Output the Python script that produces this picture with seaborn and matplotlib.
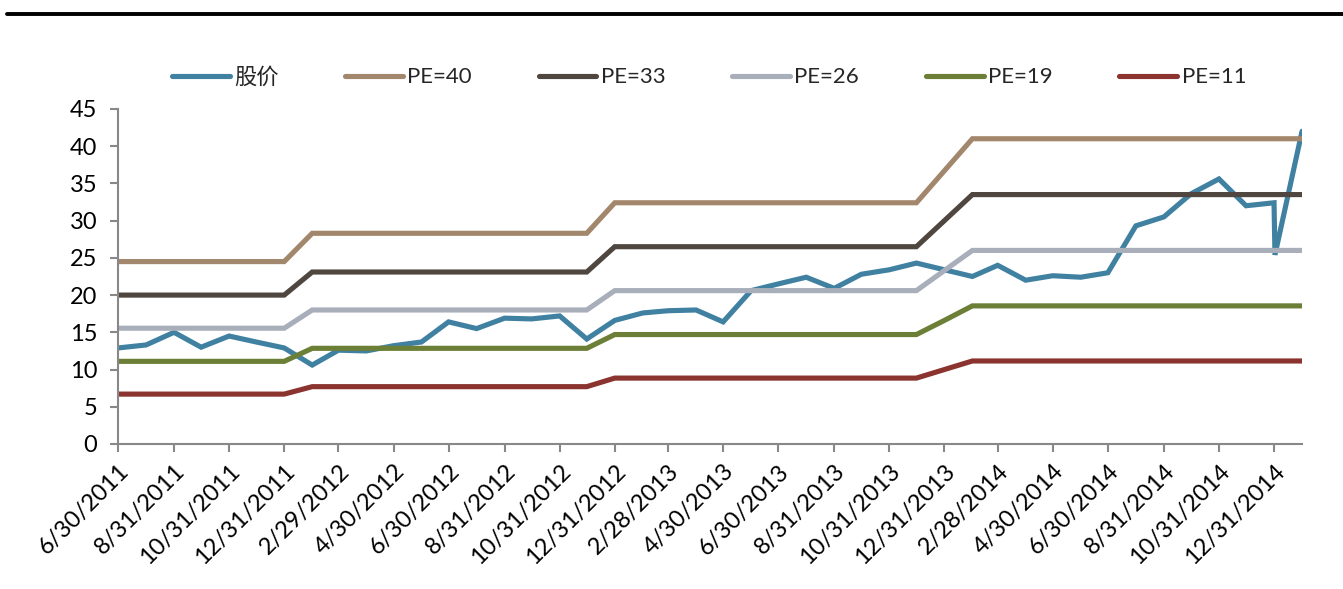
import pandas as pd
import seaborn as sns
from matplotlib import pyplot as plt
from matplotlib.lines import Line2D
import matplotlib.ticker as mticker

# monthly dates from 6/30/2011 to 1/31/2015
month_ends = list(pd.date_range("2011-06-30", "2015-01-31", freq="ME"))

stock = [12.9, 13.3, 15.0, 13.0, 14.5, 13.7, 12.9,
         10.6, 12.6, 12.5, 13.2, 13.7, 16.4, 15.5, 16.9, 16.8, 17.2, 14.1, 16.6,
         17.6, 17.9, 18.0, 16.4, 20.6, 21.5, 22.4, 20.9, 22.8, 23.4, 24.3, 23.4,
         22.5, 24.0, 22.0, 22.6, 22.4, 23.0, 29.3, 30.5, 33.6, 35.6, 32.0, 32.4,
         25.4, 42.0]
stock_dates = month_ends[:-1] + [pd.Timestamp("2015-01-01"), pd.Timestamp("2015-01-31")]

pe40 = [24.5] * 7 + [28.3] * 11 + [32.4] * 12 + [36.7] + [41.0] * 13
pe33 = [20.0] * 7 + [23.1] * 11 + [26.5] * 12 + [30.0] + [33.5] * 13
pe26 = [15.55] * 7 + [18.0] * 11 + [20.6] * 12 + [23.3] + [26.0] * 13
pe19 = [11.1] * 7 + [12.85] * 11 + [14.7] * 12 + [16.6] + [18.55] * 13
pe11 = [6.7] * 7 + [7.7] * 11 + [8.85] * 12 + [10.0] + [11.15] * 13

series_names = ["股价", "PE=40", "PE=33", "PE=26", "PE=19", "PE=11"]
colors = ["#4081A2", "#A3876C", "#4E463F", "#A8AEBA", "#6B7F36", "#8B332E"]


def build_frame():
    parts = [pd.DataFrame({"date": stock_dates, "value": stock, "series": "股价"})]
    for name, vals in zip(series_names[1:], [pe40, pe33, pe26, pe19, pe11]):
        parts.append(pd.DataFrame({"date": month_ends, "value": vals, "series": name}))
    return pd.concat(parts, ignore_index=True)


def make_chart(df):
    sns.set_style("white")
    plt.rcParams["font.family"] = ["Lato", "Noto Sans CJK SC", "DejaVu Sans"]

    fig = plt.figure(figsize=(13.43, 5.89), dpi=100)
    ax = fig.add_axes([0.0879, 0.2462, 0.9695 - 0.0879, 0.815 - 0.2462])

    sns.lineplot(data=df, x="date", y="value", hue="series", hue_order=series_names,
                 palette=dict(zip(series_names, colors)), linewidth=3.7, ax=ax,
                 estimator=None, sort=True)
    for line in ax.get_lines():
        line.set_solid_capstyle("round")
        line.set_solid_joinstyle("miter")

    ax.set_xlim(pd.Timestamp("2011-06-30"), pd.Timestamp("2015-01-31"))
    ax.set_ylim(0, 45)
    ax.yaxis.set_major_locator(mticker.MultipleLocator(5))

    tick_dates = month_ends[:-1:2]
    ax.set_xticks(tick_dates)
    ax.set_xticklabels([f"{d.month}/{d.day}/{d.year}" for d in tick_dates],
                       rotation=45, ha="right", rotation_mode="anchor")

    ax.set_xlabel("")
    ax.set_ylabel("")
    for side in ["top", "right"]:
        ax.spines[side].set_visible(False)
    for side in ["left", "bottom"]:
        ax.spines[side].set_color("#888888")
        ax.spines[side].set_linewidth(1.5)
    ax.tick_params(axis="both", direction="out", length=6, width=1.5, color="#888888",
                   labelsize=17, labelcolor="black", left=True, bottom=True)
    ax.tick_params(axis="y", pad=9)
    ax.tick_params(axis="x", pad=6)

    handles, labels = ax.get_legend_handles_labels()
    for h in handles:
        h.set_solid_capstyle("round")
    leg = ax.legend(handles, labels, loc="center", ncol=6, frameon=False, fontsize=16,
                    handlelength=2.6, handletextpad=0.2, columnspacing=3.0)
    leg.set_bbox_to_anchor((709 / 1343, 1 - 77 / 589), transform=fig.transFigure)

    fig.add_artist(Line2D([0.005, 1.0], [1 - 14 / 589, 1 - 14 / 589], color="black",
                          linewidth=2.8, transform=fig.transFigure))

    plt.savefig("out.png", dpi=100)


def main():
    df = build_frame()
    make_chart(df)


if __name__ == "__main__":
    main()
